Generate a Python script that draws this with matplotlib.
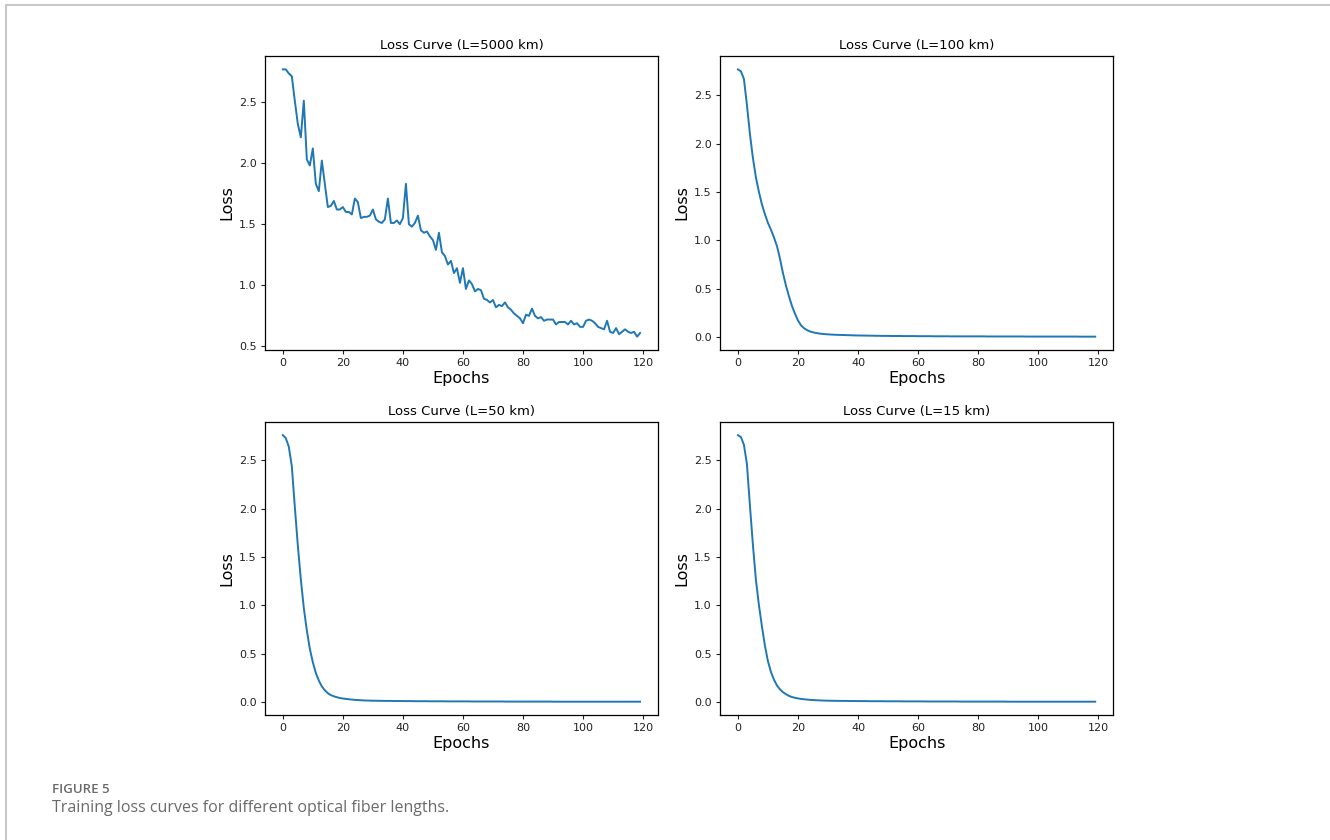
'''
Training loss curves for different optical fiber lengths
(2x2 grid of loss vs. epochs)
'''
import numpy as np
import matplotlib.pyplot as plt
from matplotlib.lines import Line2D

# loss values, one per epoch (0..119)
loss_5000km = [
    2.766, 2.766, 2.733, 2.71, 2.51, 2.32, 2.21, 2.51, 2.03, 1.98,
    2.12, 1.83, 1.77, 2.02, 1.83, 1.64, 1.65, 1.69, 1.62, 1.62,
    1.64, 1.60, 1.60, 1.58, 1.71, 1.68, 1.55, 1.56, 1.56, 1.57,
    1.62, 1.54, 1.52, 1.51, 1.54, 1.71, 1.51, 1.51, 1.53, 1.50,
    1.55, 1.83, 1.50, 1.48, 1.51, 1.57, 1.45, 1.43, 1.44, 1.40,
    1.37, 1.29, 1.43, 1.27, 1.24, 1.17, 1.20, 1.10, 1.14, 1.02,
    1.14, 0.97, 1.04, 1.01, 0.95, 0.97, 0.96, 0.89, 0.88, 0.86,
    0.88, 0.82, 0.84, 0.83, 0.86, 0.82, 0.80, 0.77, 0.75, 0.73,
    0.69, 0.76, 0.75, 0.81, 0.75, 0.73, 0.74, 0.71, 0.72, 0.72,
    0.72, 0.68, 0.70, 0.70, 0.70, 0.68, 0.71, 0.68, 0.69, 0.66,
    0.66, 0.71, 0.72, 0.71, 0.69, 0.66, 0.65, 0.64, 0.71, 0.62,
    0.61, 0.65, 0.60, 0.62, 0.64, 0.62, 0.61, 0.62, 0.58, 0.61,
]
loss_100km = [
    2.77, 2.75, 2.67, 2.40, 2.10, 1.85, 1.65, 1.50, 1.37, 1.27,
    1.18, 1.11, 1.03, 0.94, 0.81, 0.66, 0.53, 0.42, 0.32, 0.24,
    0.17, 0.12, 0.09, 0.07, 0.056, 0.047, 0.040, 0.035, 0.031, 0.028,
    0.026, 0.024, 0.022, 0.021, 0.020, 0.019, 0.018, 0.017, 0.016, 0.015,
    0.014, 0.014, 0.013, 0.013, 0.012, 0.012, 0.011, 0.011, 0.010, 0.010,
    0.010, 0.009, 0.009, 0.009, 0.009, 0.008, 0.008, 0.008, 0.008, 0.008,
    0.007, 0.007, 0.007, 0.007, 0.007, 0.006, 0.006, 0.006, 0.006, 0.006,
    0.006, 0.005, 0.005, 0.005, 0.005, 0.005, 0.005, 0.005, 0.005, 0.005,
    0.005, 0.005, 0.005, 0.004, 0.004, 0.004, 0.004, 0.004, 0.004, 0.004,
    0.004, 0.004, 0.004, 0.004, 0.004, 0.004, 0.003, 0.003, 0.003, 0.003,
    0.003, 0.003, 0.003, 0.003, 0.003, 0.003, 0.003, 0.003, 0.003, 0.003,
    0.003, 0.003, 0.003, 0.003, 0.002, 0.002, 0.002, 0.002, 0.002, 0.002,
]
loss_50km = [
    2.76, 2.73, 2.64, 2.44, 2.02, 1.62, 1.27, 0.97, 0.74, 0.55,
    0.41, 0.30, 0.22, 0.16, 0.12, 0.09, 0.07, 0.058, 0.048, 0.040,
    0.035, 0.031, 0.027, 0.024, 0.021, 0.019, 0.017, 0.015, 0.014, 0.013,
    0.012, 0.012, 0.011, 0.011, 0.010, 0.010, 0.010, 0.009, 0.009, 0.009,
    0.008, 0.008, 0.008, 0.008, 0.007, 0.007, 0.007, 0.007, 0.007, 0.006,
    0.006, 0.006, 0.006, 0.006, 0.006, 0.005, 0.005, 0.005, 0.005, 0.005,
    0.005, 0.005, 0.005, 0.004, 0.004, 0.004, 0.004, 0.004, 0.004, 0.004,
    0.004, 0.004, 0.004, 0.004, 0.003, 0.003, 0.003, 0.003, 0.003, 0.003,
    0.003, 0.003, 0.003, 0.003, 0.003, 0.003, 0.003, 0.003, 0.003, 0.003,
    0.002, 0.002, 0.002, 0.002, 0.002, 0.002, 0.002, 0.002, 0.002, 0.002,
    0.002, 0.002, 0.002, 0.002, 0.002, 0.002, 0.002, 0.002, 0.002, 0.002,
    0.002, 0.002, 0.002, 0.002, 0.002, 0.002, 0.002, 0.002, 0.002, 0.002,
]
loss_15km = [
    2.76, 2.74, 2.66, 2.46, 2.03, 1.62, 1.26, 1.00, 0.78, 0.58,
    0.42, 0.31, 0.23, 0.17, 0.13, 0.10, 0.08, 0.062, 0.050, 0.042,
    0.036, 0.031, 0.027, 0.024, 0.021, 0.019, 0.017, 0.016, 0.014, 0.013,
    0.012, 0.012, 0.011, 0.011, 0.010, 0.010, 0.010, 0.009, 0.009, 0.009,
    0.008, 0.008, 0.008, 0.008, 0.007, 0.007, 0.007, 0.007, 0.007, 0.006,
    0.006, 0.006, 0.006, 0.006, 0.006, 0.005, 0.005, 0.005, 0.005, 0.005,
    0.005, 0.005, 0.005, 0.004, 0.004, 0.004, 0.004, 0.004, 0.004, 0.004,
    0.004, 0.004, 0.004, 0.004, 0.003, 0.003, 0.003, 0.003, 0.003, 0.003,
    0.003, 0.003, 0.003, 0.003, 0.003, 0.003, 0.003, 0.003, 0.003, 0.003,
    0.002, 0.002, 0.002, 0.002, 0.002, 0.002, 0.002, 0.002, 0.002, 0.002,
    0.002, 0.002, 0.002, 0.002, 0.002, 0.002, 0.002, 0.002, 0.002, 0.002,
    0.002, 0.002, 0.002, 0.002, 0.002, 0.002, 0.002, 0.002, 0.002, 0.002,
]
titles = ['Loss Curve (L=5000 km)', 'Loss Curve (L=100 km)',
          'Loss Curve (L=50 km)', 'Loss Curve (L=15 km)']
series = [loss_5000km, loss_100km, loss_50km, loss_15km]
caption_label = 'FIGURE 5'
caption_text = 'Training loss curves for different optical fiber lengths.'

fig = plt.figure(figsize=(13.3, 8.4), dpi=100)

# axes boxes in figure fractions: left, bottom, width, height
boxes = [
    [0.1992, 0.5833, 0.2955, 0.350],
    [0.5414, 0.5833, 0.2955, 0.350],
    [0.1992, 0.1488, 0.2955, 0.349],
    [0.5414, 0.1488, 0.2955, 0.349],
]

for box, title, loss in zip(boxes, titles, series):
    ax = fig.add_axes(box)
    epochs = np.arange(len(loss))
    ax.plot(epochs, loss, color='#1f77b4', lw=1.4)
    ax.set_title(title, fontsize=9.5, pad=5)
    ax.set_xlabel('Epochs', fontsize=11.5, labelpad=2)
    ax.set_ylabel('Loss', fontsize=11.5, labelpad=3)
    ax.tick_params(labelsize=8, length=3, width=0.8, pad=3, colors='#222222')
    ax.set_xticks([0, 20, 40, 60, 80, 100, 120])
    for s in ax.spines.values():
        s.set_linewidth(0.9)

# thin page frame and caption
fig.add_artist(Line2D([0.0045, 0.0045], [0.0, 0.9945], transform=fig.transFigure,
                      color='#c8c8c8', lw=1.5))
fig.add_artist(Line2D([0.0045, 1.0], [0.9945, 0.9945], transform=fig.transFigure,
                      color='#c8c8c8', lw=1.5))
fig.text(0.039, 0.0565, caption_label, fontsize=9.5, fontweight='semibold',
         color='#6a6a6a', family=['Open Sans', 'DejaVu Sans'], va='baseline')
fig.text(0.039, 0.0335, caption_text, fontsize=11.5, color='#6a6a6a',
         family=['Open Sans', 'DejaVu Sans'], va='baseline')

plt.savefig('out.png', dpi=100)
